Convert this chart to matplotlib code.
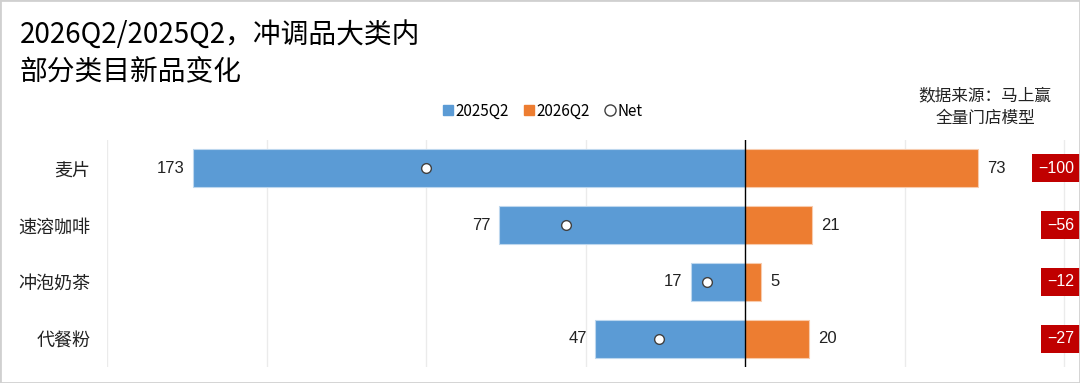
import matplotlib
matplotlib.use("Agg")
import matplotlib.pyplot as plt
from matplotlib.lines import Line2D
from matplotlib.patches import Rectangle

plt.rcParams['font.family'] = ['Noto Sans CJK SC', 'DejaVu Sans']

categories = ['麦片', '速溶咖啡', '冲泡奶茶', '代餐粉']
v2025 = [173, 77, 17, 47]
v2026 = [73, 21, 5, 20]
net = [-100, -56, -12, -27]
grid_ticks = [-200, -150, -100, -50, 0, 50, 100]

BLUE = '#5B9BD5'
ORANGE = '#ED7D31'
RED = '#C00000'

fig = plt.figure(figsize=(10.8, 3.83), dpi=100)
ax = fig.add_axes([107/1080, 1-367/383, (1078-107)/1080, (367-140)/383])

ypos = list(range(len(categories)))
ax.barh(ypos, [-v for v in v2025], height=0.67, color=BLUE, edgecolor='#BDD7EE', linewidth=0.8, zorder=2)
ax.barh(ypos, v2026, height=0.67, color=ORANGE, edgecolor='#F8CBAD', linewidth=0.8, zorder=2)
ax.plot(net, ypos, linestyle='none', marker='o', markersize=7, markerfacecolor='white',
        markeredgecolor='#404040', markeredgewidth=1.0, zorder=4)

for y, a, b, n in zip(ypos, v2025, v2026, net):
    ax.text(-a - 2.6, y, str(a), ha='right', va='center', fontsize=12,
            family=['Liberation Sans', 'DejaVu Sans'], color='#222222')
    ax.text(b + 3.0, y, str(b), ha='left', va='center', fontsize=12,
            family=['Liberation Sans', 'DejaVu Sans'], color='#222222')
    ax.text(103.3, y, '\u2212' + str(abs(n)), ha='right', va='center', fontsize=11.5,
            color='white', family=['Liberation Sans', 'DejaVu Sans'],
            bbox=dict(boxstyle='square,pad=0.4', facecolor=RED, edgecolor='none'), zorder=5)

ax.axvline(0, color='black', linewidth=1.0, zorder=3)
for g in grid_ticks:
    if g != 0:
        ax.axvline(g, color='#EBEBEB', linewidth=1.0, zorder=0)

ax.set_xlim(-200, (1078-745)/3.19)
ax.set_ylim(len(categories) - 0.5, -0.5)
ax.set_xticks([])
ax.set_yticks(ypos)
ax.set_yticklabels(categories, fontsize=13, color='#222222')
ax.tick_params(axis='y', length=0, pad=12)
for s in ax.spines.values():
    s.set_visible(False)

fig.text(20/1080, 1-35/383, '2026Q2/2025Q2，冲调品大类内', fontsize=20, ha='left', va='center', color='black')
fig.text(20/1080, 1-72/383, '部分类目新品变化', fontsize=20, ha='left', va='center', color='black')

fig.text(985/1080, 1-96/383, '数据来源：马上赢', fontsize=12, ha='center', va='center', color='#222222')
fig.text(985/1080, 1-118/383, '全量门店模型', fontsize=12, ha='center', va='center', color='#222222')

handles = [
    Line2D([], [], linestyle='none', marker='s', markersize=7, color=BLUE),
    Line2D([], [], linestyle='none', marker='s', markersize=7, color=ORANGE),
    Line2D([], [], linestyle='none', marker='o', markersize=8, markerfacecolor='white',
           markeredgecolor='#404040', markeredgewidth=1.0),
]
fig.legend(handles, ['2025Q2', '2026Q2', 'Net'], loc='center', bbox_to_anchor=(543/1080, 1-111/383),
           ncol=3, frameon=False, fontsize=11, handlelength=0.6, handletextpad=0.2, columnspacing=1.0)

fig.patches.append(Rectangle((0, 0), 1, 1, transform=fig.transFigure, fill=False,
                             edgecolor='#D0D0D0', linewidth=2, zorder=10))

fig.savefig('out.png', dpi=100)
